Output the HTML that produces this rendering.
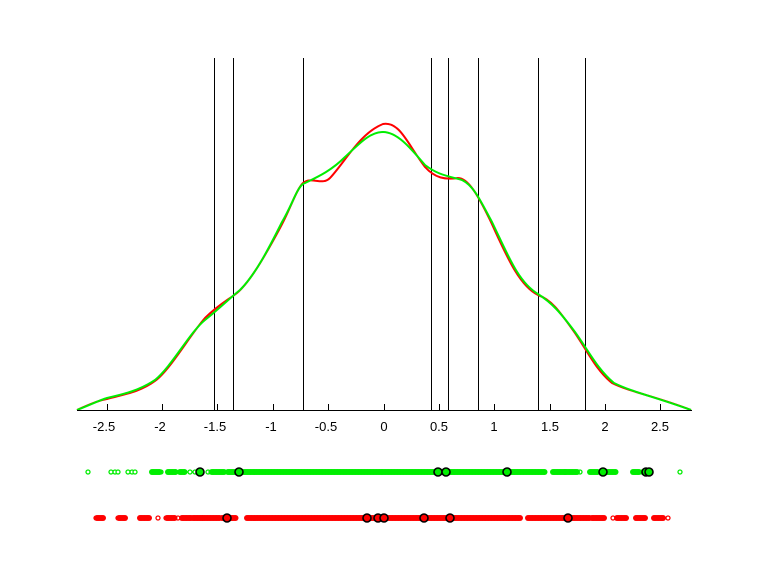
<!DOCTYPE html>
<html><head><style>
html,body{margin:0;padding:0;background:#fff;width:768px;height:576px;overflow:hidden}
svg{display:block}
text{font-family:"Liberation Sans",sans-serif;font-size:13px;fill:#000}
</style></head><body>
<svg id="s" width="768" height="576" xmlns="http://www.w3.org/2000/svg">
<g stroke="#000" stroke-width="1">
<line x1="214.5" y1="58" x2="214.5" y2="410"/>
<line x1="233.5" y1="58" x2="233.5" y2="410"/>
<line x1="303.5" y1="58" x2="303.5" y2="410"/>
<line x1="431.5" y1="58" x2="431.5" y2="410"/>
<line x1="448.5" y1="58" x2="448.5" y2="410"/>
<line x1="478.5" y1="58" x2="478.5" y2="410"/>
<line x1="538.5" y1="58" x2="538.5" y2="410"/>
<line x1="585.5" y1="58" x2="585.5" y2="410"/>
</g>
<path fill="none" stroke="#ff0000" stroke-width="2" d="M77,410 C90,404 100,400 107,399 C125,394 140,392 155,381 C170,370 190,335 205,318 C218,305 228,300 237,293 C250,282 265,256 280,228 C290,210 296,190 303,183 C312,176 322,186 330,178 C345,162 360,133 383,124 C400,121 408,145 425,167 C435,178 445,180 458,178 C468,178 478,195 490,220 C505,252 518,285 538,295 C552,300 560,312 575,333 C588,352 596,370 612,383 C630,392 655,396 691,410"/>
<path fill="none" stroke="#00ee00" stroke-width="2" d="M77,410 C90,405 100,400 107,398 C125,394 140,390 155,380 C172,366 190,332 205,320 C220,308 230,298 240,290 C255,275 268,250 282,222 C292,205 297,188 303,184 C315,178 330,172 345,157 C360,143 370,132 383,132 C398,132 412,150 425,165 C438,175 448,176 462,180 C474,186 480,200 492,222 C508,255 518,282 538,294 C552,303 560,312 575,332 C588,350 598,370 614,383 C632,392 655,397 691,410"/>
<g stroke="#000" stroke-width="1">
<line x1="77" y1="410.5" x2="692" y2="410.5"/>
<line x1="107.5" y1="404" x2="107.5" y2="410"/>
<line x1="162.5" y1="404" x2="162.5" y2="410"/>
<line x1="217.5" y1="404" x2="217.5" y2="410"/>
<line x1="273.5" y1="404" x2="273.5" y2="410"/>
<line x1="328.5" y1="404" x2="328.5" y2="410"/>
<line x1="384.5" y1="404" x2="384.5" y2="410"/>
<line x1="439.5" y1="404" x2="439.5" y2="410"/>
<line x1="494.5" y1="404" x2="494.5" y2="410"/>
<line x1="550.5" y1="404" x2="550.5" y2="410"/>
<line x1="605.5" y1="404" x2="605.5" y2="410"/>
<line x1="660.5" y1="404" x2="660.5" y2="410"/>
</g>
<g text-anchor="middle">
<text x="104" y="431">-2.5</text>
<text x="160" y="431">-2</text>
<text x="215" y="431">-1.5</text>
<text x="271" y="431">-1</text>
<text x="326" y="431">-0.5</text>
<text x="384" y="431">0</text>
<text x="439" y="431">0.5</text>
<text x="494" y="431">1</text>
<text x="550" y="431">1.5</text>
<text x="605" y="431">2</text>
<text x="660" y="431">2.5</text>
</g>
<g id="dots"></g>
</svg>
<script>
var g=document.getElementById('dots'),ns='http://www.w3.org/2000/svg';
function c(x,y,col,r,sw,st){var e=document.createElementNS(ns,'circle');e.setAttribute('cx',x);e.setAttribute('cy',y);e.setAttribute('r',r);e.setAttribute('fill',col);e.setAttribute('stroke',st||col);e.setAttribute('stroke-width',sw);g.appendChild(e);}
function strip(y,col,pts,ranges,big){
 pts.forEach(function(x){c(x,y,'#fff',2,1.3,col);});
 ranges.forEach(function(r){for(var x=r[0];x<=r[1];x+=1.5)c(x,y,col,3,0);});
 big.forEach(function(x){c(x,y,col,4,1.6,'#000');});
}
strip(472,'#00ee00',[88,111,115,118,128,132,135,152,155,158,161,168,172,175,181,184,190,195,199,208,211,228,232,240,250,345,417,427,430,433,562,580,592,596,600,634,638,650,680],
 [[152,160],[168,176],[180,185],[212,225],[228,236],[240,545],[553,565],[565,578],[590,598],[602,616],[633,640],[643,650]],
 [200,239,438,446,507,603,646,649]);
strip(518,'#ff0000',[96,99,102,118,124,140,158,166,178,186,193,410,472,480,485,580,598,613,620,626,640,645,655,663,668],
 [[97,103],[119,126],[140,150],[167,175],[182,191],[193,202],[203,220],[222,236],[247,520],[528,590],[592,605],[617,627],[636,646],[654,663]],
 [227,367,378,384,424,450,568]);
</script>
</body></html>
